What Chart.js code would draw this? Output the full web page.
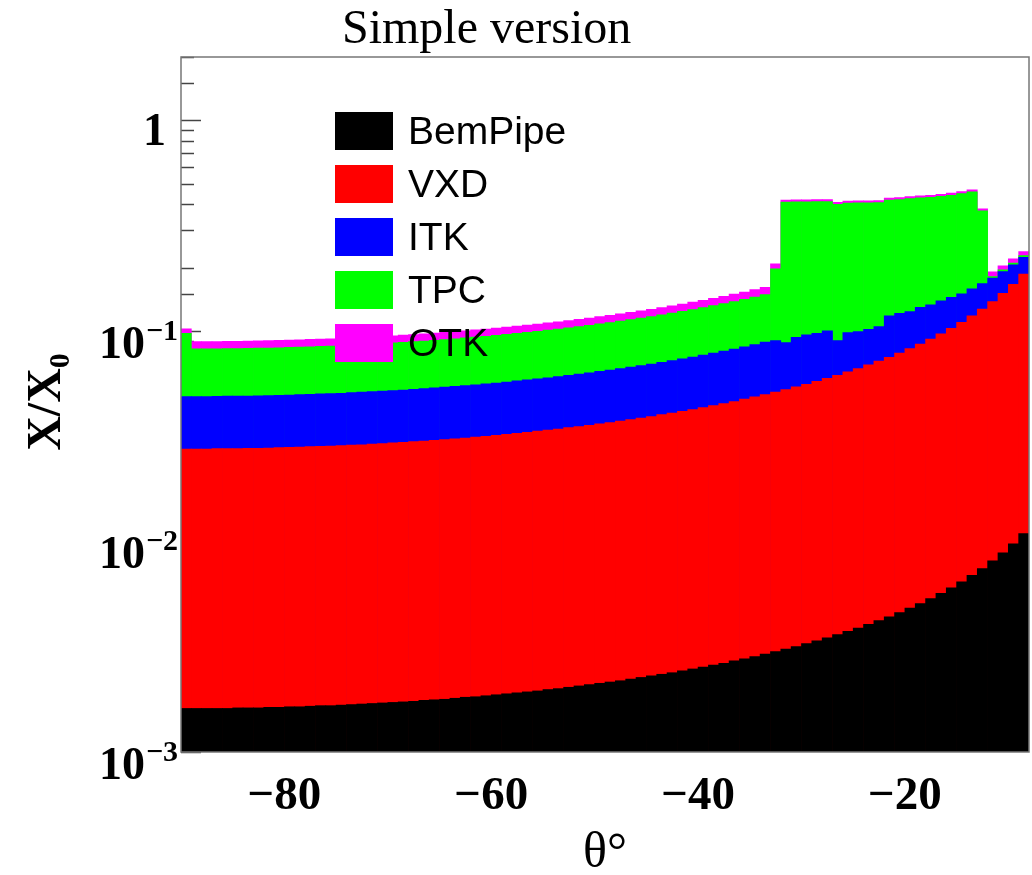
<!DOCTYPE html>
<html lang="en">
<head>
  <meta charset="UTF-8" />
  <title>Simple version – X/X0 vs theta</title>
  <script src="https://cdn.jsdelivr.net/npm/chart.js"></script>
  <style>
    html, body { margin: 0; padding: 0; background: #ffffff; }
    #wrap { position: relative; width: 1032px; height: 875px; }
  </style>
</head>
<body>
<div id="wrap"><canvas id="chart"></canvas></div>

<script>
  // bin centres in degrees (1 degree bins from -90 to -8)
  const thetaCenters = [
    -89.5, -88.5, -87.5, -86.5, -85.5, -84.5, -83.5, -82.5, -81.5, -80.5,
    -79.5, -78.5, -77.5, -76.5, -75.5, -74.5, -73.5, -72.5, -71.5, -70.5,
    -69.5, -68.5, -67.5, -66.5, -65.5, -64.5, -63.5, -62.5, -61.5, -60.5,
    -59.5, -58.5, -57.5, -56.5, -55.5, -54.5, -53.5, -52.5, -51.5, -50.5,
    -49.5, -48.5, -47.5, -46.5, -45.5, -44.5, -43.5, -42.5, -41.5, -40.5,
    -39.5, -38.5, -37.5, -36.5, -35.5, -34.5, -33.5, -32.5, -31.5, -30.5,
    -29.5, -28.5, -27.5, -26.5, -25.5, -24.5, -23.5, -22.5, -21.5, -20.5,
    -19.5, -18.5, -17.5, -16.5, -15.5, -14.5, -13.5, -12.5, -11.5, -10.5,
    -9.5, -8.5
  ];

  // stack heights as drawn (top of each layer, X/X0)
  const bemPipeTop = [
    0.00161, 0.00161, 0.00161, 0.00161, 0.00161, 0.00162, 0.00162, 0.00162, 0.00163, 0.00163,
    0.00164, 0.00164, 0.00165, 0.00166, 0.00166, 0.00167, 0.00168, 0.00169, 0.00170, 0.00171,
    0.00172, 0.00173, 0.00174, 0.00176, 0.00177, 0.00178, 0.00180, 0.00182, 0.00183, 0.00185,
    0.00187, 0.00189, 0.00191, 0.00193, 0.00195, 0.00198, 0.00200, 0.00203, 0.00206, 0.00209,
    0.00212, 0.00215, 0.00218, 0.00222, 0.00226, 0.00230, 0.00234, 0.00238, 0.00243, 0.00248,
    0.00253, 0.00259, 0.00264, 0.00271, 0.00277, 0.00284, 0.00292, 0.00300, 0.00308, 0.00317,
    0.00327, 0.00337, 0.00349, 0.00361, 0.00374, 0.00388, 0.00404, 0.00421, 0.00439, 0.00460,
    0.00482, 0.00507, 0.00535, 0.00567, 0.00602, 0.00643, 0.00690, 0.00744, 0.00808, 0.00883,
    0.00975, 0.01089
  ];
  const vxdTop = [
    0.0275, 0.0275, 0.0275, 0.0276, 0.0276, 0.0276, 0.0277, 0.0277, 0.0278, 0.0279,
    0.0280, 0.0281, 0.0282, 0.0283, 0.0284, 0.0285, 0.0287, 0.0288, 0.0290, 0.0292,
    0.0294, 0.0296, 0.0298, 0.0300, 0.0302, 0.0305, 0.0307, 0.0310, 0.0313, 0.0316,
    0.0319, 0.0323, 0.0326, 0.0330, 0.0334, 0.0338, 0.0342, 0.0347, 0.0351, 0.0356,
    0.0362, 0.0367, 0.0373, 0.0379, 0.0386, 0.0392, 0.0400, 0.0407, 0.0415, 0.0423,
    0.0432, 0.0442, 0.0452, 0.0462, 0.0474, 0.0486, 0.0498, 0.0512, 0.0526, 0.0542,
    0.0558, 0.0576, 0.0596, 0.0616, 0.0639, 0.0663, 0.0690, 0.0719, 0.0750, 0.0785,
    0.0824, 0.0867, 0.0915, 0.0968, 0.1029, 0.1098, 0.1178, 0.1271, 0.1379, 0.1509,
    0.1666, 0.1861
  ];
  const itkTop = [
    0.0488, 0.0488, 0.0488, 0.0489, 0.0490, 0.0490, 0.0491, 0.0492, 0.0493, 0.0495,
    0.0496, 0.0498, 0.0500, 0.0502, 0.0504, 0.0506, 0.0509, 0.0512, 0.0515, 0.0518,
    0.0521, 0.0524, 0.0528, 0.0532, 0.0536, 0.0541, 0.0545, 0.0550, 0.0555, 0.0561,
    0.0566, 0.0572, 0.0579, 0.0585, 0.0592, 0.0599, 0.0607, 0.0615, 0.0624, 0.0632,
    0.0642, 0.0652, 0.0662, 0.0673, 0.0684, 0.0696, 0.0709, 0.0722, 0.0736, 0.0751,
    0.0767, 0.0784, 0.0802, 0.0820, 0.0840, 0.0862, 0.0884, 0.0900, 0.0880, 0.0933,
    0.0957, 0.0975, 0.1000, 0.0900, 0.0982, 0.0993, 0.1018, 0.1048, 0.1178, 0.1213,
    0.1235, 0.1296, 0.1329, 0.1389, 0.1445, 0.1499, 0.1583, 0.1679, 0.1780, 0.1913,
    0.2058, 0.2239
  ];
  const tpcTop = [
    0.0975, 0.0821, 0.0822, 0.0823, 0.0824, 0.0825, 0.0826, 0.0828, 0.0830, 0.0832,
    0.0835, 0.0838, 0.0841, 0.0844, 0.0848, 0.0852, 0.0856, 0.0861, 0.0866, 0.0871,
    0.0877, 0.0882, 0.0889, 0.0895, 0.0902, 0.0910, 0.0917, 0.0926, 0.0934, 0.0943,
    0.0953, 0.0963, 0.0973, 0.0985, 0.0996, 0.1008, 0.1021, 0.1035, 0.1049, 0.1064,
    0.1080, 0.1096, 0.1114, 0.1132, 0.1151, 0.1171, 0.1193, 0.1215, 0.1239, 0.1264,
    0.1291, 0.1319, 0.1349, 0.1380, 0.1414, 0.1449, 0.1487, 0.197, 0.409, 0.410,
    0.410, 0.411, 0.411, 0.399, 0.405, 0.406, 0.406, 0.407, 0.418, 0.421,
    0.425, 0.429, 0.431, 0.436, 0.441, 0.449, 0.458, 0.372, 0.181, 0.195,
    0.210, 0.228
  ];
  const otkTop = [
    0.1022, 0.0889, 0.0890, 0.0891, 0.0892, 0.0893, 0.0895, 0.0897, 0.0899, 0.0901,
    0.0904, 0.0907, 0.0911, 0.0914, 0.0918, 0.0923, 0.0927, 0.0932, 0.0937, 0.0943,
    0.0949, 0.0955, 0.0962, 0.0969, 0.0977, 0.0985, 0.0993, 0.1002, 0.1012, 0.1021,
    0.1032, 0.1043, 0.1054, 0.1066, 0.1079, 0.1092, 0.1106, 0.1121, 0.1136, 0.1152,
    0.1169, 0.1187, 0.1206, 0.1226, 0.1246, 0.1268, 0.1291, 0.1316, 0.1342, 0.1369,
    0.1398, 0.1429, 0.1461, 0.1495, 0.1531, 0.1570, 0.1611, 0.208, 0.418, 0.419,
    0.419, 0.420, 0.420, 0.408, 0.414, 0.415, 0.415, 0.416, 0.427, 0.430,
    0.434, 0.438, 0.441, 0.446, 0.451, 0.459, 0.468, 0.380, 0.191, 0.204,
    0.220, 0.238
  ];

  const yTickValues = [0.001, 0.01, 0.1, 1];
  const yTickBase = ['10', '10', '10', '1'];
  const yTickExp = ['\u22123', '\u22122', '\u22121', ''];

  const SERIF = '"Liberation Serif", "Times New Roman", serif';
  const SANS = '"Liberation Sans", Arial, Helvetica, sans-serif';

  // ROOT-like decorations: inner ticks, frame, legend, labels
  const rootLook = {
    id: 'rootLook',
    beforeDatasetsDraw(chart) {
      const { ctx, chartArea: a, scales: { y } } = chart;
      ctx.save();
      ctx.strokeStyle = '#444';
      ctx.lineWidth = 1.5;
      y.ticks.forEach(t => {
        if (t.value < y.min || t.value > y.max) return;
        const lg = Math.log10(t.value);
        const major = Math.abs(lg - Math.round(lg)) < 1e-6;
        const py = Math.round(y.getPixelForValue(t.value)) + 0.5;
        ctx.beginPath();
        ctx.moveTo(a.left, py);
        ctx.lineTo(a.left + (major ? 20 : 13), py);
        ctx.stroke();
      });
      ctx.restore();
    },
    afterDatasetsDraw(chart) {
      const { ctx, chartArea: a } = chart;
      ctx.save();
      ctx.strokeStyle = '#777';
      ctx.lineWidth = 1.5;
      ctx.strokeRect(a.left, a.top, a.right - a.left, a.bottom - a.top);

      ctx.font = `39px ${SANS}`;
      ctx.textAlign = 'left';
      ctx.textBaseline = 'alphabetic';
      chart.data.datasets.forEach((ds, i) => {
        const top = 112 + i * 53;
        ctx.fillStyle = ds.backgroundColor;
        ctx.fillRect(335, top, 58, 38);
        ctx.fillStyle = '#000';
        ctx.fillText(ds.label, 408, top + 32);
      });
      ctx.restore();
    },
    afterDraw(chart) {
      const { ctx, chartArea: a, scales: { y } } = chart;
      ctx.save();
      ctx.fillStyle = '#000';
      ctx.textBaseline = 'alphabetic';

      // y tick labels with superscript exponents
      yTickValues.forEach((v, i) => {
        const py = y.getPixelForValue(v);
        ctx.textAlign = 'right';
        if (yTickExp[i]) {
          ctx.font = `bold 30px ${SERIF}`;
          ctx.fillText(yTickExp[i], 178, py + 9);
          const w = ctx.measureText(yTickExp[i]).width;
          ctx.font = `bold 46px ${SERIF}`;
          ctx.fillText(yTickBase[i], 177 - w, py + 27);
        } else {
          ctx.font = `bold 46px ${SERIF}`;
          ctx.fillText(yTickBase[i], 166, py + 25);
        }
      });

      // x axis title
      ctx.textAlign = 'center';
      ctx.font = `50px ${SERIF}`;
      ctx.fillText('\u03b8\u00b0', (a.left + a.right) / 2, 867);

      // y axis title X/X0 (rotated)
      ctx.save();
      ctx.translate(60, 402);
      ctx.rotate(-Math.PI / 2);
      ctx.font = `bold 48px ${SERIF}`;
      const main = 'X/X';
      const mw = ctx.measureText(main).width;
      ctx.font = `bold 30px ${SERIF}`;
      const sw = ctx.measureText('0').width;
      const start = -(mw + sw) / 2;
      ctx.textAlign = 'left';
      ctx.font = `bold 48px ${SERIF}`;
      ctx.fillText(main, start, 0);
      ctx.font = `bold 30px ${SERIF}`;
      ctx.fillText('0', start + mw, 9);
      ctx.restore();

      // pad title
      ctx.textAlign = 'left';
      ctx.font = `48px ${SERIF}`;
      ctx.fillText('Simple version', 342, 43);
      ctx.restore();
    }
  };

  new Chart(document.getElementById('chart'), {
    type: 'bar',
    data: {
      labels: thetaCenters,
      datasets: [
        { label: 'BemPipe', data: bemPipeTop, backgroundColor: '#000000' },
        { label: 'VXD', data: vxdTop, backgroundColor: '#ff0000' },
        { label: 'ITK', data: itkTop, backgroundColor: '#0000ff' },
        { label: 'TPC', data: tpcTop, backgroundColor: '#00ff00' },
        { label: 'OTK', data: otkTop, backgroundColor: '#ff00ff' }
      ]
    },
    options: {
      responsive: true,
      maintainAspectRatio: false,
      animation: false,
      layout: { padding: { top: 57, right: 3, left: 0, bottom: 0 } },
      datasets: {
        bar: { grouped: false, barPercentage: 1, categoryPercentage: 1, borderWidth: 0 }
      },
      plugins: {
        legend: { display: false },
        title: { display: false }
      },
      scales: {
        x: {
          type: 'linear',
          min: -90,
          max: -8,
          offset: false,
          grid: { display: false, offset: false },
          border: { display: false },
          ticks: {
            stepSize: 20,
            includeBounds: false,
            autoSkip: false,
            maxRotation: 0,
            padding: 9,
            color: '#000',
            font: { family: SERIF, size: 47, weight: 'bold' },
            callback: v => '\u2212' + Math.abs(v)
          },
          afterFit: s => { s.height = 123; }
        },
        y: {
          type: 'logarithmic',
          min: 0.001,
          max: 2,
          grid: { display: false },
          border: { display: false },
          ticks: { display: false },
          afterFit: s => { s.width = 181; }
        }
      }
    },
    plugins: [rootLook]
  });
</script>
</body>
</html>
